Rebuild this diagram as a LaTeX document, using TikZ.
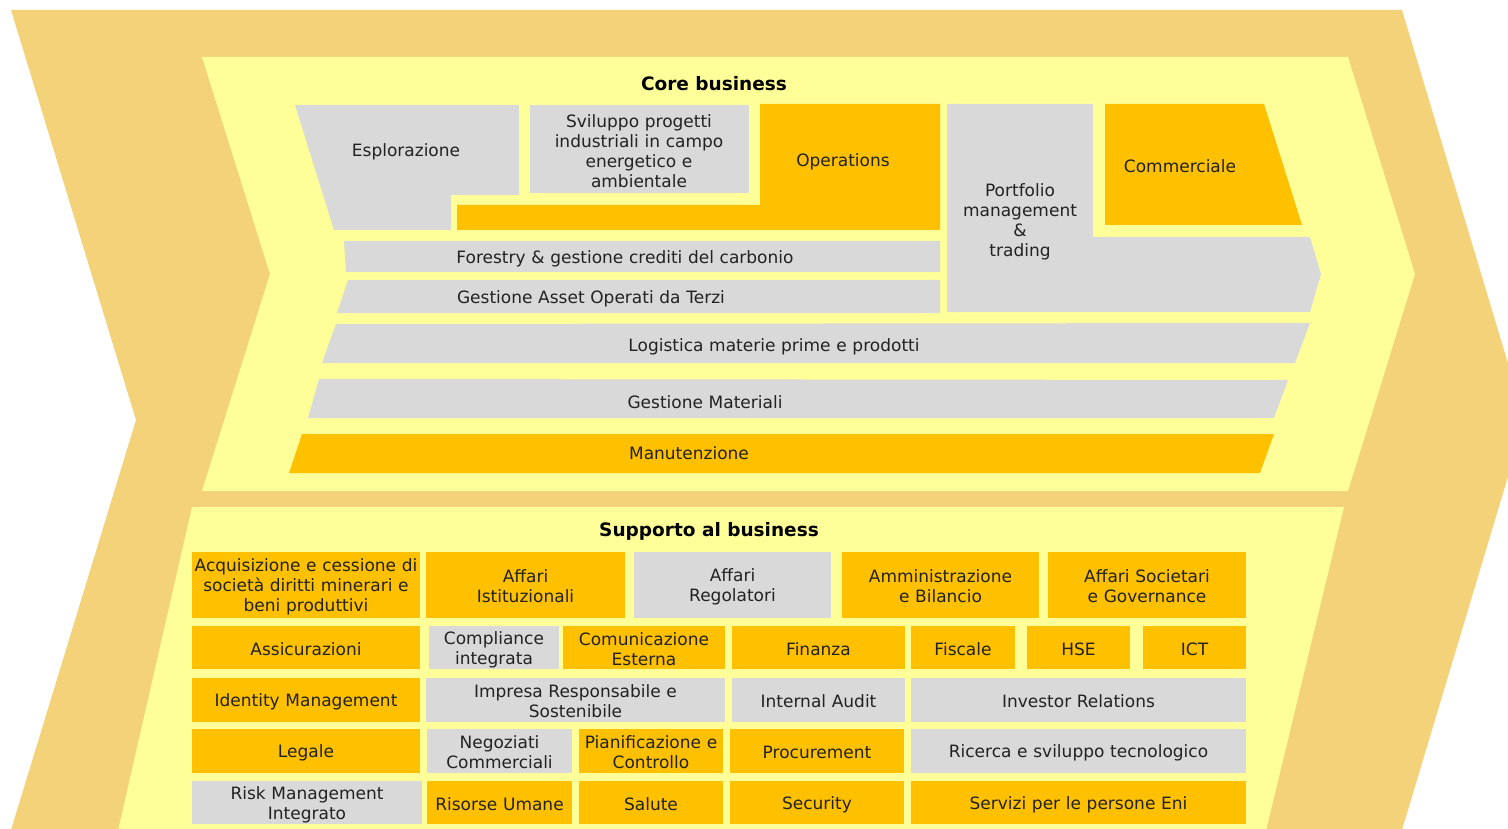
\documentclass[tikz,border=0pt]{standalone}
\usepackage{fontspec}
\setmainfont{DejaVu Sans}

\definecolor{chevron}{HTML}{F3D27A}
\definecolor{panel}{HTML}{FFFF99}
\definecolor{eniorange}{HTML}{FFC000}
\definecolor{enigray}{HTML}{D9D9D9}
\definecolor{textdark}{HTML}{222222}

% same line box for every label, with or without descenders
\newcommand{\cellstrut}{\rule[-1.5pt]{0pt}{18.5pt}}
\newcommand{\cellfoot}{\rule[-1.5pt]{0pt}{1.5pt}}

\tikzset{
  label text/.style={text=textdark, align=center, inner sep=0pt, text width=400,
    font=\fontsize{17}{20}\selectfont,
    execute at begin node=\cellstrut, execute at end node=\cellfoot},
  title text/.style={text=black, inner sep=0pt,
    font=\fontsize{18.5}{22}\selectfont\bfseries},
  cellsize/.style 2 args={minimum width=#1, text width=#1, minimum height=#2},
  ocell/.style={label text, fill=eniorange},
  gcell/.style={label text, fill=enigray}
}

\begin{document}
\begin{tikzpicture}[x=1pt, y=-1pt]
      \useasboundingbox (0,0) rectangle (1508,829);
      \clip (0,0) rectangle (1508,829);

      % Draw the outer chevron and the two inner panels
      \fill[chevron] (11,10) -- (1402,10) -- (1525,420) -- (1402,830)
        -- (11,830) -- (136,420) -- cycle;
      \fill[panel] (202,57) -- (1348,57) -- (1415,274) -- (1348,491)
        -- (202,491) -- (270,274) -- cycle;
      \fill[panel] (192,507) -- (1344,507) -- (1265,835) -- (117,835) -- cycle;

      % Core business blocks
      \node[title text] (core) at (714,84) {Core business};

      \fill[enigray] (295,105) -- (519,105) -- (519,195) -- (451,195)
        -- (451,230) -- (334,230) -- cycle;
      \node[label text] (esplor) at (406,150) {Esplorazione};

      \fill[enigray] (530,105) rectangle (749,193);
      \node[label text] (svil) at (639,150)
        {Sviluppo progetti\\industriali in campo\\energetico e\\ambientale};

      \fill[eniorange] (760,104) -- (940,104) -- (940,230) -- (457,230)
        -- (457,205) -- (760,205) -- cycle;
      \node[label text] (oper) at (843,160) {Operations};

      \fill[enigray] (947,104) -- (1093,104) -- (1093,237) -- (1310,237)
        -- (1321,274) -- (1310,312) -- (947,312) -- cycle;
      \node[label text] (portf) at (1020,220) {Portfolio\\management\\\&\\trading};

      \fill[eniorange] (1105,104) -- (1264,104) -- (1302,225) -- (1105,225) -- cycle;
      \node[label text] (comm) at (1180,165) {Commerciale};

      % Horizontal bars across the chain
      \fill[enigray] (344,241) -- (940,241) -- (940,272) -- (346,272) -- cycle;
      \node[label text] (forest) at (625,257) {Forestry \& gestione crediti del carbonio};

      \fill[enigray] (348,280) -- (940,280) -- (940,313) -- (337,313) -- cycle;
      \node[label text] (asset) at (591,297) {Gestione Asset Operati da Terzi};

      \fill[enigray] (336,324) -- (1310,323) -- (1295,363) -- (322,363) -- cycle;
      \node[label text] (logist) at (774,345) {Logistica materie prime e prodotti};

      \fill[enigray] (319,379) -- (1288,380) -- (1274,418) -- (308,418) -- cycle;
      \node[label text] (mater) at (705,401) {Gestione Materiali};

      \fill[eniorange] (302,434) -- (1274,434) -- (1260,473) -- (289,473) -- cycle;
      \node[label text] (manut) at (689,452) {Manutenzione};

      % Supporto al business grid
      \node[title text] (supp) at (709,531) {Supporto al business};

      % first row
      \node[ocell, cellsize={228}{66}] (acq) at (306,585)
        {Acquisizione e cessione di\\società diritti minerari e\\beni produttivi};
      \node[ocell, cellsize={199}{66}] (affist) at (525.5,585) {Affari\\Istituzionali};
      \node[gcell, cellsize={197}{66}] (affreg) at (732.5,585) {Affari\\Regolatori};
      \node[ocell, cellsize={197}{66}] (ammin) at (940.5,585) {Amministrazione\\e Bilancio};
      \node[ocell, cellsize={198}{66}] (affsoc) at (1147,585) {Affari Societari\\e Governance};

      % second row
      \node[ocell, cellsize={228}{43}] (assic) at (306,647.5) {Assicurazioni};
      \node[gcell, cellsize={130}{43}] (compl) at (494,647.5) {Compliance\\integrata};
      \node[ocell, cellsize={162}{43}] (comest) at (644,647.5) {Comunicazione\\Esterna};
      \node[ocell, cellsize={173}{43}] (finanza) at (818.5,647.5) {Finanza};
      \node[ocell, cellsize={104}{43}] (fiscale) at (963,647.5) {Fiscale};
      \node[ocell, cellsize={103}{43}] (hse) at (1078.5,647.5) {HSE};
      \node[ocell, cellsize={103}{43}] (ict) at (1194.5,647.5) {ICT};

      % third row
      \node[ocell, cellsize={228}{44}] (ident) at (306,700) {Identity Management};
      \node[gcell, cellsize={299}{44}] (impresa) at (575.5,700) {Impresa Responsabile e\\Sostenibile};
      \node[gcell, cellsize={173}{44}] (audit) at (818.5,700) {Internal Audit};
      \node[gcell, cellsize={335}{44}] (investor) at (1078.5,700) {Investor Relations};

      % fourth row
      \node[ocell, cellsize={228}{44}] (legale) at (306,751) {Legale};
      \node[gcell, cellsize={145}{44}] (negoz) at (499.5,751) {Negoziati\\Commerciali};
      \node[ocell, cellsize={144}{44}] (pianif) at (651,751) {Pianificazione e\\Controllo};
      \node[ocell, cellsize={174}{44}] (procur) at (817,751) {Procurement};
      \node[gcell, cellsize={335}{44}] (ricerca) at (1078.5,751) {Ricerca e sviluppo tecnologico};

      % fifth row
      \node[gcell, cellsize={230}{43}] (risk) at (307,802.5) {Risk Management\\Integrato};
      \node[ocell, cellsize={145}{43}] (risorse) at (499.5,802.5) {Risorse Umane};
      \node[ocell, cellsize={144}{43}] (salute) at (651,802.5) {Salute};
      \node[ocell, cellsize={174}{43}] (secur) at (817,802.5) {Security};
      \node[ocell, cellsize={335}{43}] (servizi) at (1078.5,802.5) {Servizi per le persone Eni};
    \end{tikzpicture}
\end{document}
